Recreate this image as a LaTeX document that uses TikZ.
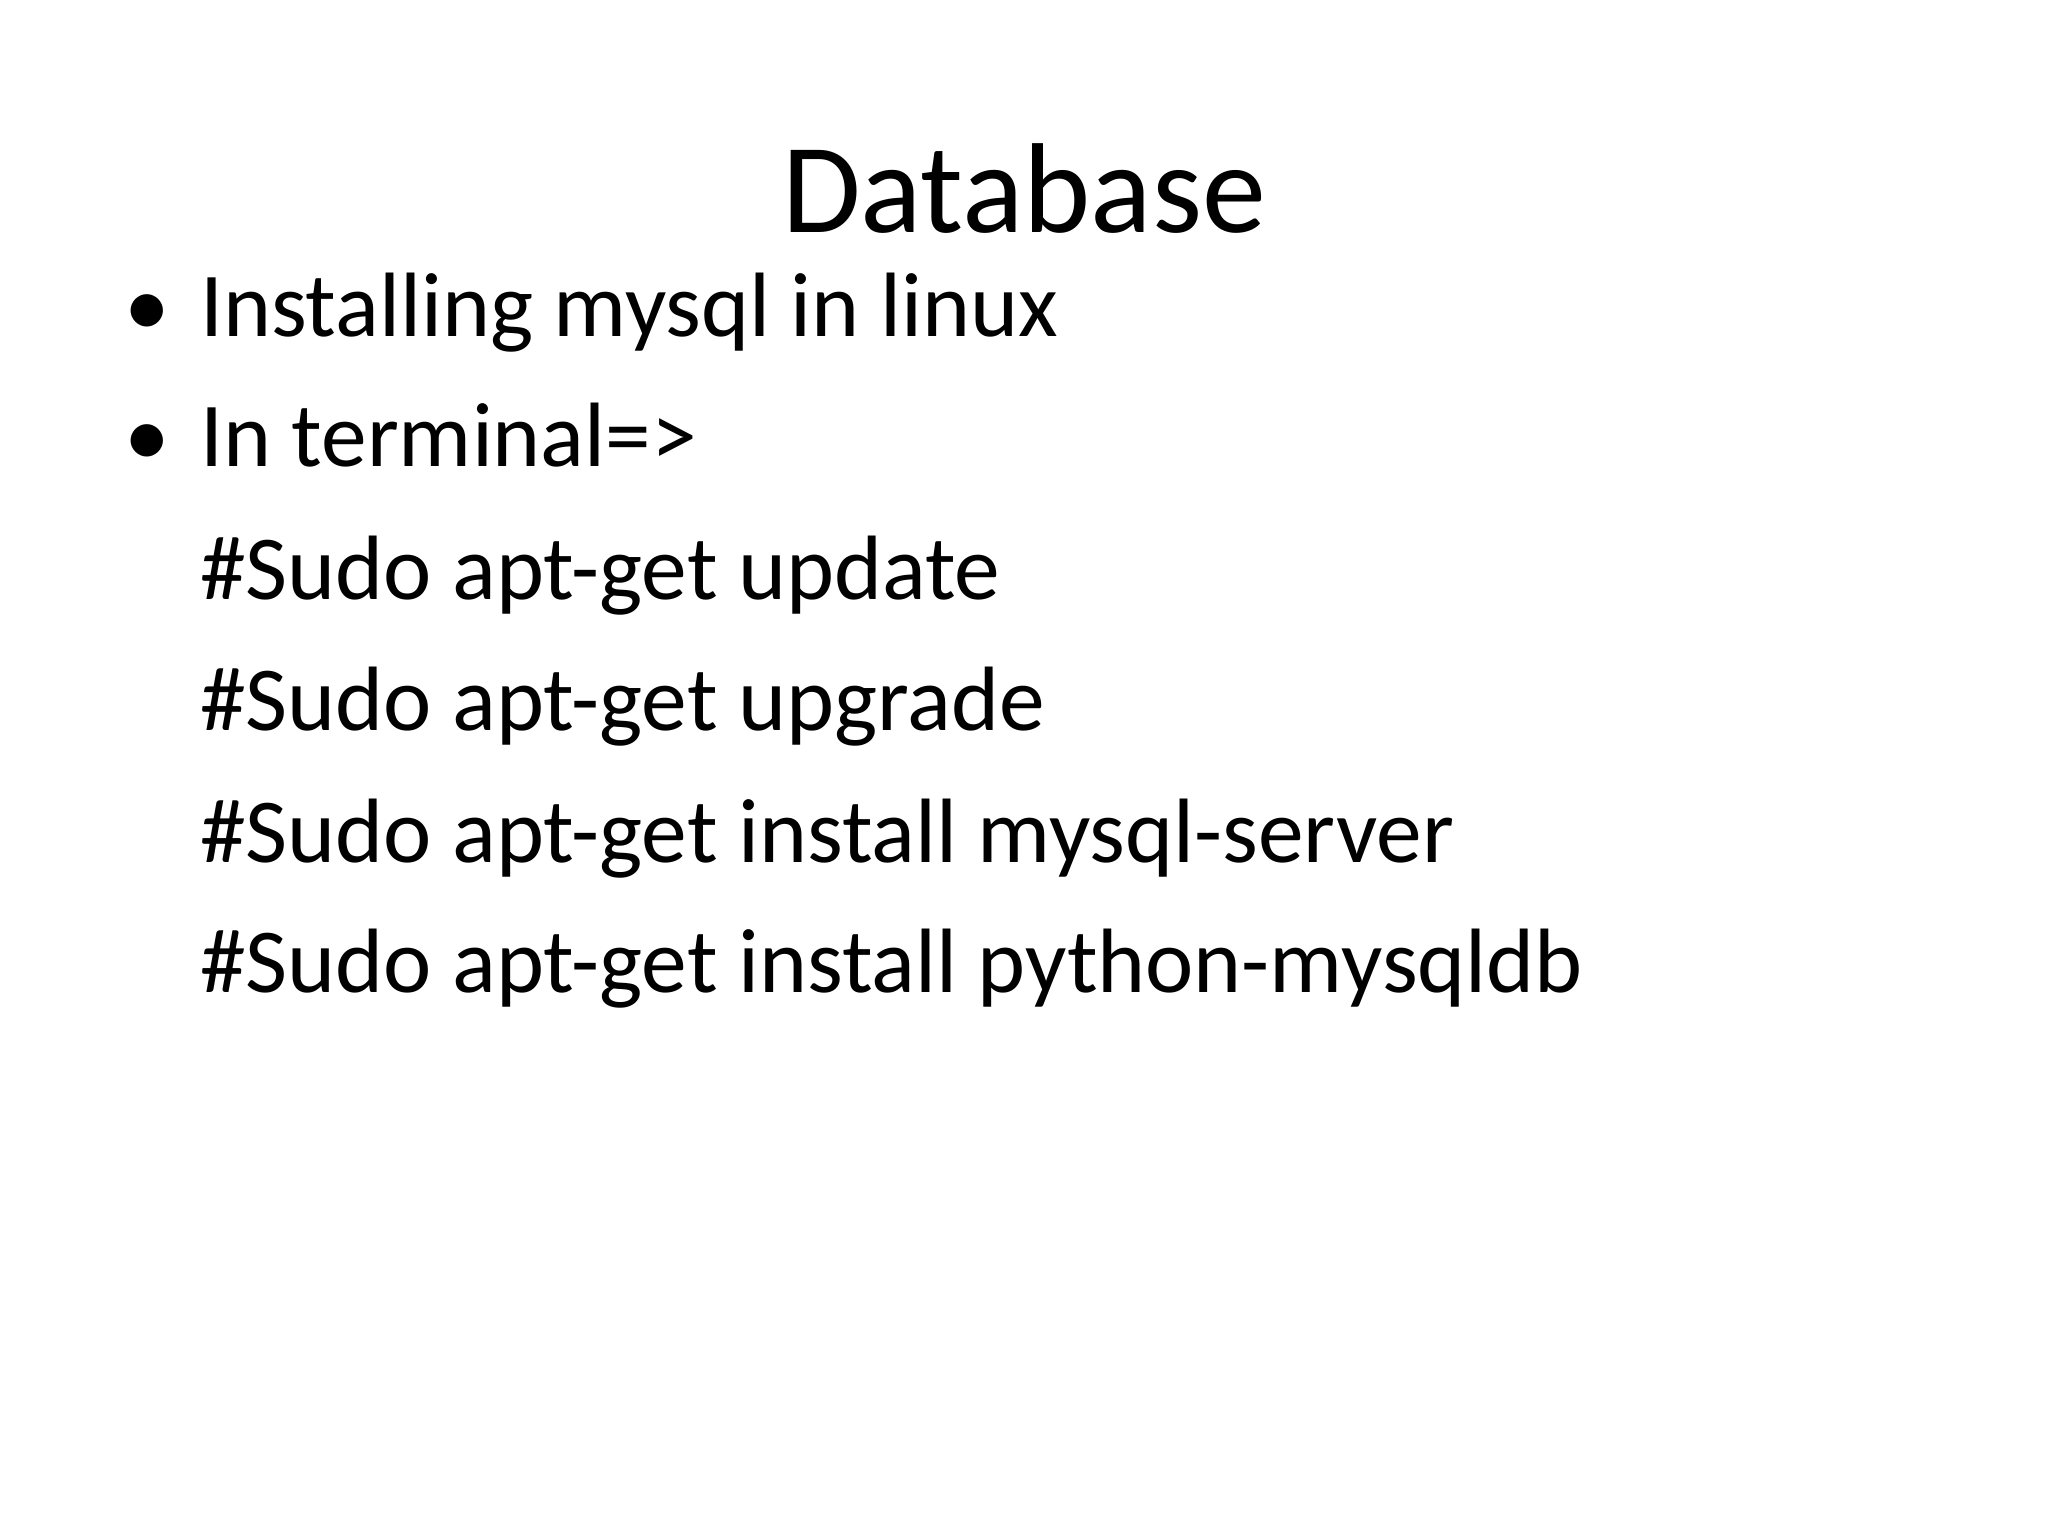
\documentclass[tikz,border=0pt]{standalone}
\usepackage{fontspec}
\setmainfont{Carlito}
\begin{document}
\begin{tikzpicture}[x=1pt,y=-1pt,
  body/.style={anchor=base west,inner sep=0pt,font=\fontsize{70}{84}\selectfont}]
\useasboundingbox[fill=white] (0,0) rectangle (1568,1176);
\node[anchor=base,inner sep=0pt,font=\fontsize{98}{110}\selectfont] (title) at (784,178) {Database};
\node[body] (b1) at (95,258) {\textbullet};
\node[body] (l1) at (153,258) {Installing mysql in linux};
\node[body] (b2) at (95,357) {\textbullet};
\node[body] (l2) at (153,357) {In terminal=>};
\node[body] (l3) at (153,459) {\#Sudo apt-get update};
\node[body] (l4) at (153,559) {\#Sudo apt-get upgrade};
\node[body] (l5) at (153,660) {\#Sudo apt-get install mysql-server};
\node[body] (l6) at (153,760) {\#Sudo apt-get install python-mysqldb};
\end{tikzpicture}
\end{document}
